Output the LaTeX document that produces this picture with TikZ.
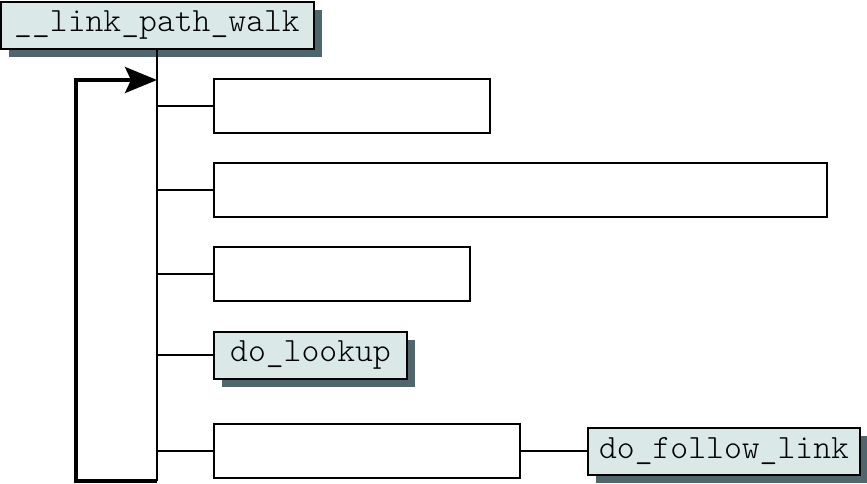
\documentclass[tikz,border=0pt]{standalone}
\usepackage{tikz}
\usetikzlibrary{arrows.meta,shadows}

\definecolor{boxfill}{RGB}{218,232,232}
\definecolor{shade}{RGB}{80,102,108}

\begin{document}
\begin{tikzpicture}[x=1pt,y=-1pt]
\tikzstyle{fn}=[draw,line width=2pt,fill=boxfill,inner sep=0pt,minimum height=47pt,
  font=\ttfamily\fontseries{l}\fontsize{34}{38}\selectfont,
  drop shadow={shadow xshift=8pt,shadow yshift=-8pt,fill=shade,opacity=1}];
\tikzstyle{blank}=[draw,line width=2pt,fill=white,inner sep=0pt,minimum height=54pt];
\tikzstyle{branch}=[line width=1.5pt];
\useasboundingbox (0,0) rectangle (867,483);
% calls
\node[fn,minimum width=313pt] (walk) at (157,25) {\_\_link\_path\_walk};
\node[blank,minimum width=276pt] (s1) at (352,106) {};
\node[blank,minimum width=613pt] (s2) at (520.5,190) {};
\node[blank,minimum width=256pt] (s3) at (342,274) {};
\node[fn,minimum width=193pt] (lookup) at (310.5,355) {do\_lookup};
\node[blank,minimum width=306pt] (s5) at (367,451) {};
\node[fn,minimum width=272pt] (follow) at (724,451) {do\_follow\_link};
% trunk
\coordinate (top) at (157,80);
\coordinate (j1) at (157,106);
\coordinate (j2) at (157,190);
\coordinate (j3) at (157,274);
\coordinate (j4) at (157,355);
\coordinate (j5) at (157,451);
\coordinate (bot) at (157,481);
\draw[branch] (walk.south) -- (bot);
\draw[branch] (j1) -- (s1.west);
\draw[branch] (j2) -- (s2.west);
\draw[branch] (j3) -- (s3.west);
\draw[branch] (j4) -- (lookup.west);
\draw[branch] (j5) -- (s5.west);
\draw[branch] (s5.east) -- (follow.west);
% loop back
\draw[line width=3.5pt,-{Stealth[length=32pt,width=26pt,inset=6pt]}] (bot) -- ++(-81,0) |- (top);
\end{tikzpicture}
\end{document}
